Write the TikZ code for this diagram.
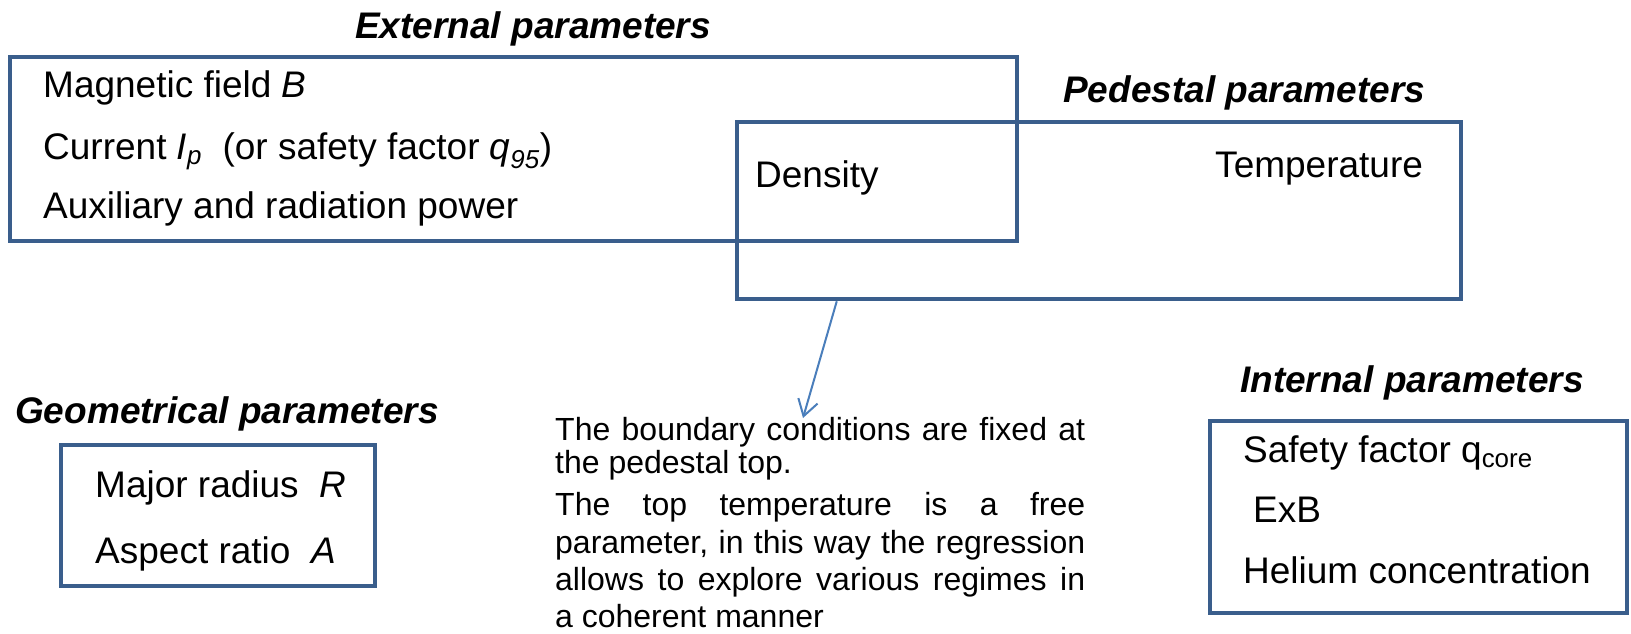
\documentclass[tikz,border=0pt]{standalone}
\usepackage{fontspec}
\setmainfont{Liberation Sans}
\usetikzlibrary{arrows.meta}
\definecolor{boxblue}{RGB}{58,94,140}
\definecolor{arrblue}{RGB}{74,126,187}
\begin{document}
\begin{tikzpicture}[x=1pt,y=-1pt,
  box/.style={draw=boxblue,line width=4.5pt,rectangle,inner sep=0pt},
  big/.style={inner sep=0pt,anchor=base west,font=\fontsize{37}{44}\selectfont},
  ttl/.style={inner sep=0pt,anchor=base west,font=\fontsize{37}{44}\selectfont\bfseries\itshape},
  para/.style={inner sep=0pt,anchor=base west,font=\fontsize{32}{38}\selectfont},
  arr/.style={draw=arrblue,line width=2pt,-{Straight Barb[length=16pt,width=20pt,line width=2pt]}}]
\useasboundingbox (0,0) rectangle (1631,633);
\fill[white] (0,0) rectangle (1631,633);

% boxes
\node[box,minimum width=1007pt,minimum height=184pt] (ext) at (513.5,149) {};
\node[box,minimum width=724pt,minimum height=177pt] (ped) at (1099,210.5) {};
\node[box,minimum width=314pt,minimum height=141pt] (geo) at (218,515.5) {};
\node[box,minimum width=417pt,minimum height=192pt] (int) at (1418.5,517) {};

% titles
\node[ttl] (textt) at (355,38) {External parameters};
\node[ttl] (pedt) at (1063,102) {Pedestal parameters};
\node[ttl] (geot) at (15,423) {Geometrical parameters};
\node[ttl] (intt) at (1240,392) {Internal parameters};

% external parameters
\node[big] (e1) at (43,97) {Magnetic field \textit{B}};
\node[big] (e2) at (43,159) {Current \textit{I}\textsubscript{\textit{p}}\ \ (or safety factor \textit{q}\textsubscript{\textit{95}})};
\node[big] (e3) at (43,218) {Auxiliary and radiation power};

% pedestal parameters
\node[big] (dens) at (755,187) {Density};
\node[big] (temp) at (1215,177) {Temperature};

% geometrical parameters
\node[big] (g1) at (95,497) {Major radius\ \ \textit{R}};
\node[big] (g2) at (95,563) {Aspect ratio\ \ \textit{A}};

% internal parameters
\node[big] (i1) at (1243,462) {Safety factor q\textsubscript{core}};
\node[big] (i2) at (1253,522) {ExB};
\node[big] (i3) at (1243,583) {Helium concentration};

% paragraph
\node[para] (p1) at (555,440) {\makebox[530pt][s]{The boundary conditions are fixed at}};
\node[para] (p2) at (555,473) {the pedestal top.};
\node[para] (p3) at (555,515) {\makebox[530pt][s]{The top temperature is a free}};
\node[para] (p4) at (555,553) {\makebox[530pt][s]{parameter, in this way the regression}};
\node[para] (p5) at (555,590) {\makebox[530pt][s]{allows to explore various regimes in}};
\node[para] (p6) at (555,627) {a coherent manner};

% arrow
\coordinate (tip) at (803,418);
\draw[arr] ([xshift=102pt]ped.south west) -- (tip);
\end{tikzpicture}
\end{document}
